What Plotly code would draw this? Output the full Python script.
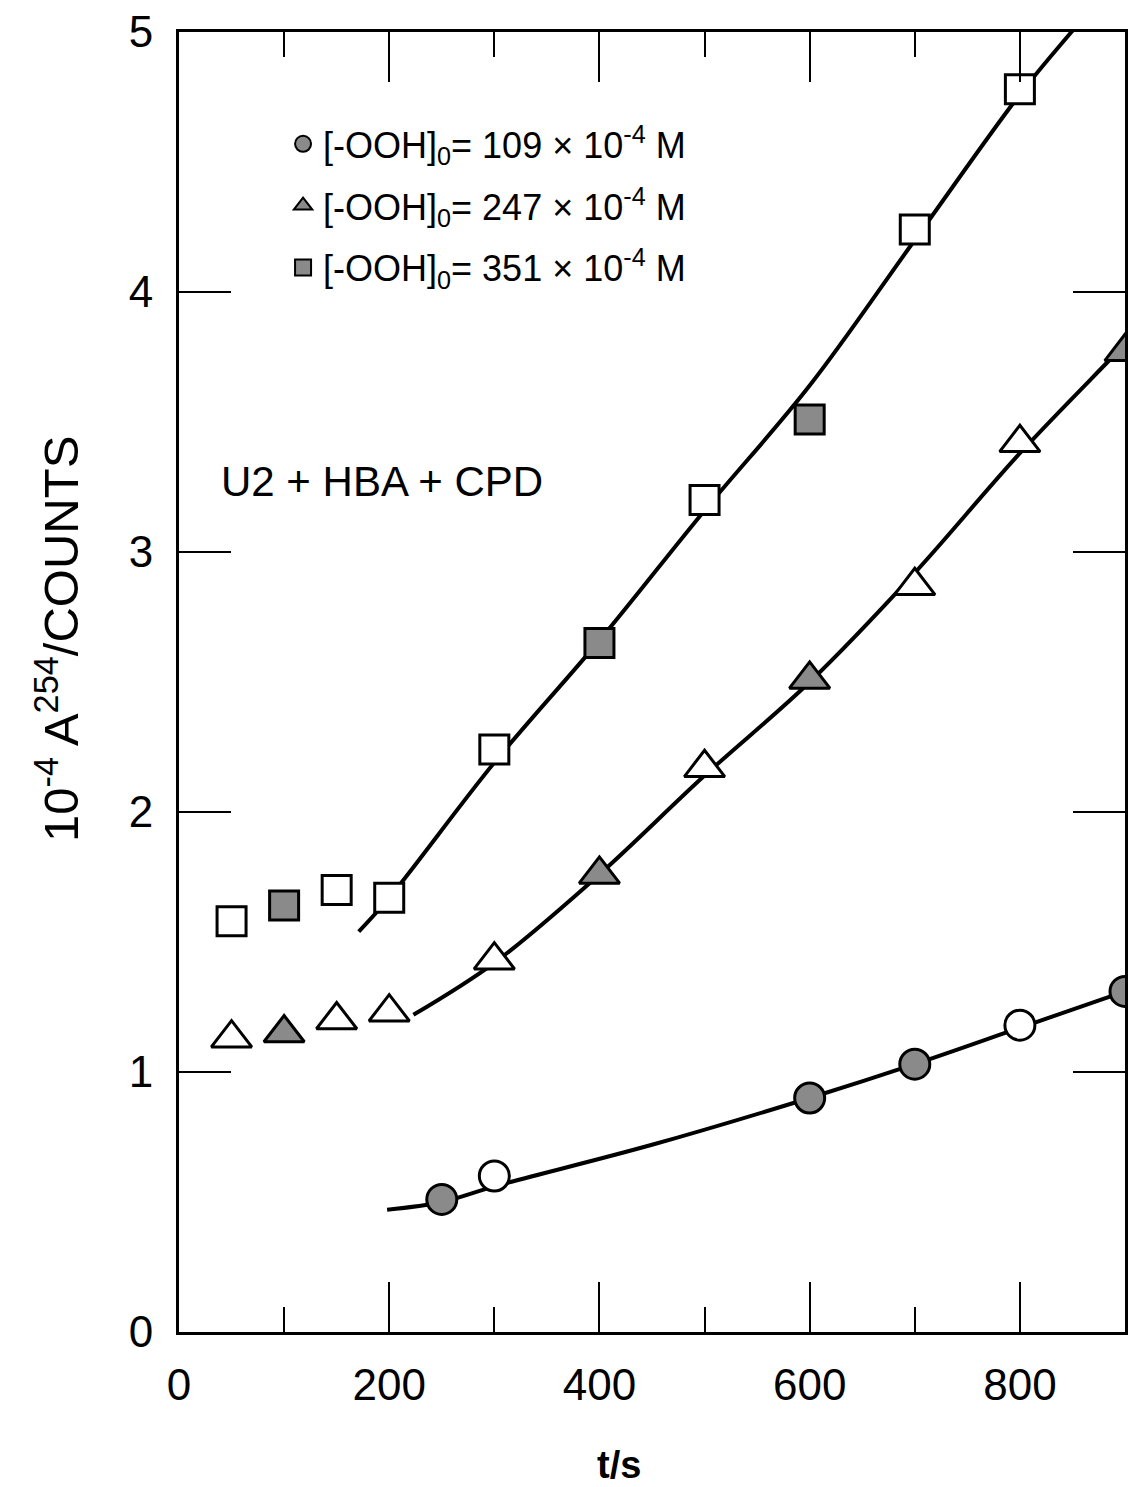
import plotly.graph_objects as go

# data (t in s, y = 10^-4 A254 / counts)
circ_t = [250, 300, 600, 700, 800, 900]
circ_y = [0.51, 0.60, 0.90, 1.03, 1.18, 1.31]

tri_t = [50, 100, 150, 200, 300, 400, 500, 600, 700, 800, 900]
tri_y = [1.13, 1.15, 1.20, 1.23, 1.43, 1.76, 2.17, 2.51, 2.87, 3.42, 3.77]

sq_t = [50, 100, 150, 200, 300, 400, 500, 600, 700, 800]
sq_y = [1.58, 1.64, 1.70, 1.67, 2.24, 2.65, 3.20, 3.51, 4.24, 4.78]

# hand drawn curves through the points
circ_fit_t = [198, 250, 300, 450, 600, 700, 800, 900, 930]
circ_fit_y = [0.47, 0.50, 0.56, 0.72, 0.90, 1.03, 1.17, 1.31, 1.35]

tri_fit_t = [223, 300, 400, 500, 600, 700, 800, 900, 930]
tri_fit_y = [1.22, 1.42, 1.76, 2.14, 2.50, 2.92, 3.38, 3.80, 3.93]

sq_fit_t = [171, 200, 300, 400, 500, 600, 700, 800, 849, 870]
sq_fit_y = [1.54, 1.67, 2.19, 2.66, 3.16, 3.64, 4.20, 4.76, 5.00, 5.10]

legend_labels = [
    "[-OOH]<sub>0</sub>= 109 × 10<sup>-4</sup> M",
    "[-OOH]<sub>0</sub>= 247 × 10<sup>-4</sup> M",
    "[-OOH]<sub>0</sub>= 351 × 10<sup>-4</sup> M",
]

# which points are printed solid (style only)
circ_solid = [True, False, True, True, False, True]
tri_solid = [False, True, False, False, False, True, False, True, False, False, True]
sq_solid = [False, True, False, False, False, True, False, True, False, False]

FONT = "Liberation Sans"
GREY = "#8a8a8a"


def fills(flags):
    return [GREY if f else "white" for f in flags]


fig = go.Figure()

for ft, fy in [(circ_fit_t, circ_fit_y), (tri_fit_t, tri_fit_y), (sq_fit_t, sq_fit_y)]:
    fig.add_trace(go.Scatter(x=ft, y=fy, mode="lines", line=dict(color="black", width=4, shape="spline"),
                             showlegend=False, hoverinfo="skip"))

series = [
    (circ_t, circ_y, circ_solid, "circle", 30),
    (tri_t, tri_y, tri_solid, "triangle-up", 35),
    (sq_t, sq_y, sq_solid, "square", 29),
]
for i, (t, y, solid, sym, size) in enumerate(series):
    fig.add_trace(go.Scatter(x=t, y=y, mode="markers",
                             marker=dict(symbol=sym, size=size, color=fills(solid),
                                         line=dict(color="black", width=3)),
                             showlegend=False))
    # legend entry
    fig.add_trace(go.Scatter(x=[None], y=[None], mode="markers", name=legend_labels[i],
                             legendgroup=str(i),
                             marker=dict(symbol=sym, size=size, color=GREY,
                                         line=dict(color="black", width=2))))

fig.add_annotation(x=0.042, y=3.27, xref="paper", yref="y", text="U2 + HBA + CPD", showarrow=False,
                   xanchor="left", font=dict(size=42, family=FONT, color="black"))

# axis titles
fig.add_annotation(x=0.465, y=-0.102, xref="paper", yref="paper", text="<b>t/s</b>", showarrow=False,
                   yanchor="middle", font=dict(size=38, family=FONT, color="black"))
fig.add_annotation(x=-0.128, y=0.533, xref="paper", yref="paper",
                   text="10<sup>-4</sup> A<sup>254</sup>/COUNTS", showarrow=False, textangle=-90,
                   xanchor="center", yanchor="middle", font=dict(size=49, family=FONT, color="black"))

fig.update_layout(
    width=1138, height=1487,
    margin=dict(l=171, r=21, t=24, b=163, autoexpand=False),
    plot_bgcolor="white", paper_bgcolor="white",
    font=dict(family=FONT, color="black"),
    legend=dict(x=0.11, y=0.937, xanchor="left", yanchor="top", bgcolor="rgba(0,0,0,0)",
                font=dict(size=36, family=FONT), tracegroupgap=12, itemsizing="trace"),
)

fig.update_xaxes(range=[0, 900], dtick=200, tick0=0, showgrid=False, zeroline=False, automargin=False,
                 showline=True, linecolor="black", linewidth=3, mirror="ticks",
                 ticks="inside", ticklen=50, tickwidth=2, tickcolor="black",
                 minor=dict(dtick=100, ticks="inside", ticklen=25, tickwidth=2, tickcolor="black"),
                 tickfont=dict(size=44, family=FONT), ticklabelstandoff=12, ticklabeloverflow="allow")

fig.update_yaxes(range=[0, 5], dtick=1, showgrid=False, zeroline=False, automargin=False,
                 showline=True, linecolor="black", linewidth=3, mirror="ticks",
                 ticks="inside", ticklen=52, tickwidth=2, tickcolor="black",
                 tickfont=dict(size=44, family=FONT), ticklabelstandoff=14, ticklabeloverflow="allow")

fig.write_html("out.html")
